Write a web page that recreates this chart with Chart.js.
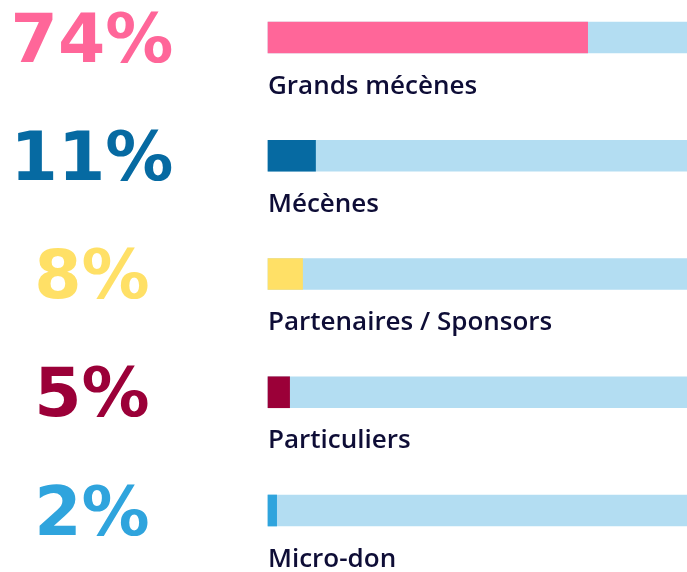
<!DOCTYPE html>
<html>
<head>
<meta charset="utf-8">
<script src="https://cdn.jsdelivr.net/npm/chart.js@4/dist/chart.umd.min.js"></script>
<style>
  html, body { margin: 0; padding: 0; background: #ffffff; }
  #wrap { width: 687px; height: 572px; position: relative; }
</style>
</head>
<body>
<div id="wrap"><canvas id="c" width="687" height="572"></canvas></div>
<script>
const categories = ["Grands mécènes", "Mécènes", "Partenaires / Sponsors", "Particuliers", "Micro-don"];
const shares = [74, 11, 8, 5, 2];
const totals = [100, 100, 100, 100, 100];
const barColors = ["#ff6699", "#066aa2", "#ffe066", "#9b0038", "#2fa4dd"];
const trackColor = "#b3ddf2";
const textColor = "#0e0d36";

const labelPlugin = {
  id: 'labelPlugin',
  afterDatasetsDraw(chart) {
    const ctx = chart.ctx;
    const y = chart.scales.y;
    const area = chart.chartArea;
    ctx.save();
    categories.forEach((cat, i) => {
      const cy = y.getPixelForValue(i);
      // big percentage
      ctx.fillStyle = barColors[i];
      ctx.font = 'bold 68px "DejaVu Sans"';
      ctx.textAlign = 'center';
      ctx.textBaseline = 'alphabetic';
      ctx.fillText(shares[i] + '%', 92, cy + 24);
      // category label
      ctx.fillStyle = textColor;
      ctx.font = '600 26px "Open Sans"';
      ctx.textAlign = 'left';
      ctx.textBaseline = 'alphabetic';
      ctx.fillText(cat, area.left, cy + 15.5 + 40.5);
    });
    ctx.restore();
  }
};

new Chart(document.getElementById('c'), {
  type: 'bar',
  data: {
    labels: categories,
    datasets: [
      { data: shares, backgroundColor: barColors, grouped: false, order: 1, barThickness: 31, clip: false, borderWidth: 0 },
      { data: totals, backgroundColor: trackColor, grouped: false, order: 2, barThickness: 31, clip: false, borderWidth: 0 }
    ]
  },
  plugins: [labelPlugin],
  options: {
    indexAxis: 'y',
    responsive: false,
    animation: false,
    layout: { padding: { left: 268, right: 0, top: 37.5, bottom: 61.5 } },
    plugins: { legend: { display: false }, tooltip: { enabled: false } },
    scales: {
      x: { display: false, min: 0, max: 97 },
      y: { display: false, offset: false, grid: { display: false } }
    }
  }
});
</script>
</body>
</html>
